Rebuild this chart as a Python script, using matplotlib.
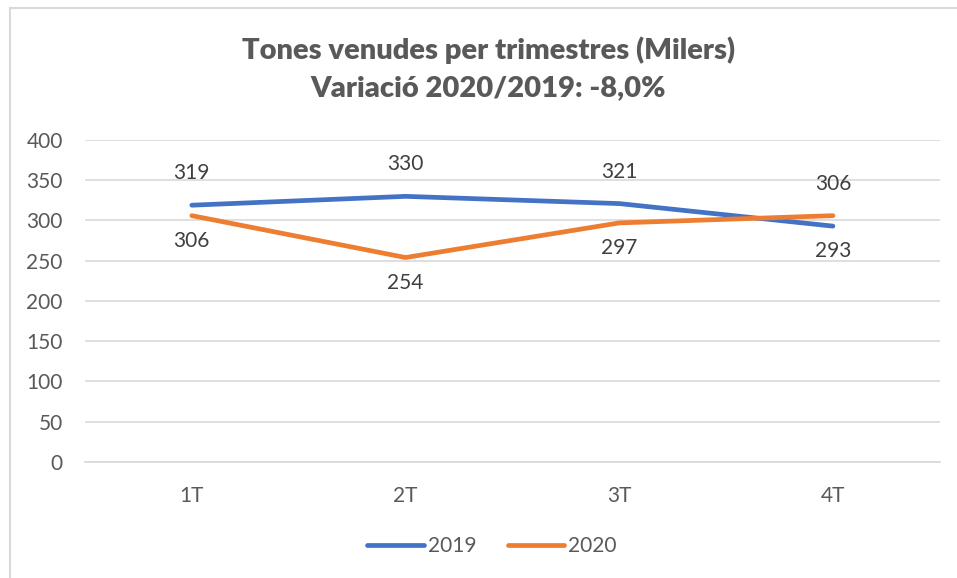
import matplotlib
matplotlib.use("Agg")
from matplotlib import pyplot as plt
from matplotlib.lines import Line2D

trimestres = ["1T", "2T", "3T", "4T"]
tones_2019 = [319, 330, 321, 293]
tones_2020 = [306, 254, 297, 306]
series_names = ["2019", "2020"]

blue = "#4472C4"
orange = "#ED7D31"
gray_text = "#595959"
grid_gray = "#D9D9D9"

plt.rcParams["font.family"] = ["Lato", "DejaVu Sans"]

fig = plt.figure(figsize=(9.57, 5.78), dpi=100)
ax = fig.add_axes([0.0888, 0.2007, 0.8932, 0.5571])

x = range(len(trimestres))
ax.plot(x, tones_2019, color=blue, lw=3.4, solid_capstyle="round", solid_joinstyle="round")
ax.plot(x, tones_2020, color=orange, lw=3.4, solid_capstyle="round", solid_joinstyle="round")

# data labels: the higher value goes above, the lower one below
for i in x:
    for v, other in [(tones_2019[i], tones_2020[i]), (tones_2020[i], tones_2019[i])]:
        dy = 23 if v >= other else -18
        ax.annotate(str(v), (i, v), xytext=(0, dy), textcoords="offset points",
                    ha="center", va="center", fontsize=15, color="#404040")

ax.set_xlim(-0.5, 3.5)
ax.set_ylim(0, 400)
ax.set_yticks(range(0, 401, 50))
ax.set_xticks(list(x))
ax.set_xticklabels(trimestres)
ax.grid(axis="y", color=grid_gray, lw=1.2)
ax.set_axisbelow(True)
for s in ["top", "right", "left"]:
    ax.spines[s].set_visible(False)
ax.spines["bottom"].set_color(grid_gray)
ax.spines["bottom"].set_linewidth(1.2)
ax.tick_params(length=0, labelsize=15, labelcolor=gray_text)
ax.tick_params(axis="x", pad=17)
ax.tick_params(axis="y", pad=16)

fig.text(0.51, 0.913, "Tones venudes per trimestres (Milers)", ha="center", va="center",
         fontsize=21, fontweight="heavy", color=gray_text)
fig.text(0.51, 0.847, "Variació 2020/2019: -8,0%", ha="center", va="center",
         fontsize=21, fontweight="heavy", color=gray_text)

handles = [Line2D([], [], color=blue, lw=3.4, solid_capstyle="round"),
           Line2D([], [], color=orange, lw=3.4, solid_capstyle="round")]
fig.legend(handles, series_names, loc="center", bbox_to_anchor=(0.514, 0.055), ncol=2,
           frameon=False, fontsize=15, labelcolor=gray_text, handlelength=2.7,
           handletextpad=0.2, columnspacing=1.5)

# chart frame (top and left edges visible in the screenshot)
fig.add_artist(Line2D([10 / 957, 1], [1 - 8 / 578, 1 - 8 / 578], color="#D9D9D9", lw=1.5))
fig.add_artist(Line2D([10 / 957, 10 / 957], [0, 1 - 8 / 578], color="#D9D9D9", lw=1.5))

fig.savefig("out.png", dpi=100)
